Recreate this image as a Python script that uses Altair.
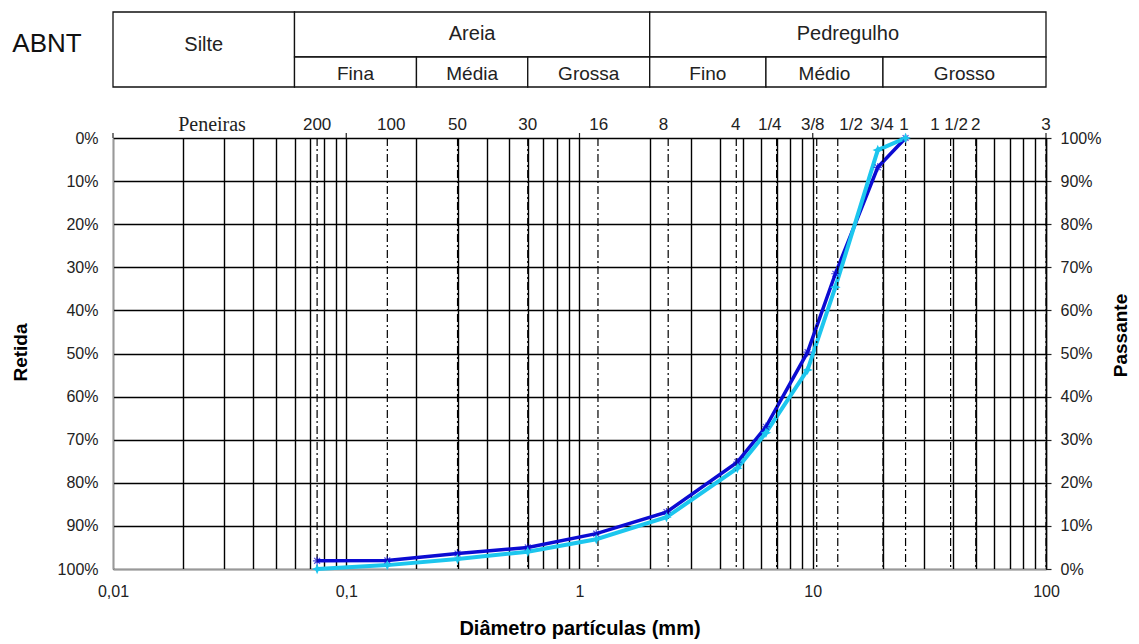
import altair as alt
import pandas as pd
import numpy as np

# ---- data ----
diam_mm = [0.075, 0.15, 0.3, 0.6, 1.18, 2.36, 4.75, 6.3, 9.5, 12.5, 19, 25]
pass_blue = [1.9, 2.0, 3.6, 5.0, 8.2, 13.2, 24.8, 33.0, 50.3, 68.5, 93.2, 100]
pass_cyan = [0.0, 0.9, 2.3, 4.0, 6.9, 12.0, 23.4, 31.6, 46.2, 65.4, 97.2, 100]

sieve_line_mm = [0.075, 0.15, 0.3, 0.6, 1.2, 2.4, 4.7, 7.0, 10.4, 12.8, 20, 25, 39, 50, 100]
sieve_label_mm = [0.075, 0.156, 0.3, 0.6, 1.21, 2.29, 4.67, 6.54, 10.0, 14.6, 19.8, 24.6, 38.4, 50, 100]
sieve_labels = ["200", "100", "50", "30", "16", "8", "4", "1/4", "3/8", "1/2", "3/4", "1", "1 1/2", "2", "3"]

main_names = ["Silte", "Areia", "Pedregulho"]
main_lo = [0.01, 0.06, 2.0]
main_hi = [0.06, 2.0, 100.0]
sub_names = ["Fina", "Média", "Grossa", "Fino", "Médio", "Grosso"]
sub_lo = [0.06, 0.2, 0.6, 2.0, 6.3, 20.0]
sub_hi = [0.2, 0.6, 2.0, 6.3, 20.0, 100.0]

decades = [0.01, 0.1, 1, 10, 100]
grid_x = sorted(set([round(m * d, 6) for d in [0.01, 0.1, 1, 10] for m in range(1, 10)] + [100]))
grid_y = list(range(0, 101, 10))

W, H = 933, 431
SANS = "Liberation Sans"
SERIF = "Liberation Serif"

xscale = alt.Scale(type="log", domain=[0.01, 100], nice=False)
yscale = alt.Scale(domain=[0, 100], nice=False, zero=False)

df_blue = pd.DataFrame({"d": diam_mm, "p": pass_blue})
df_cyan = pd.DataFrame({"d": diam_mm, "p": pass_cyan})

x_axis = alt.Axis(
    values=grid_x, grid=True, gridColor="#000", gridWidth=1.4, gridOpacity=1,
    ticks=False, domainColor="#999", domainWidth=1.2,
    labelExpr="indexof([0.01,0.1,1,10,100], datum.value) >= 0 ? replace(toString(datum.value), '.', ',') : ''",
    labelFont=SANS, labelFontSize=16, labelColor="#222", labelPadding=14, labelFlush=False,
    title="Diâmetro partículas (mm)", titleFont=SANS, titleFontSize=20, titleFontWeight="bold",
    titleColor="#000", titleX=W / 2, titleY=59, titleBaseline="middle", titleAlign="center",
)
left_axis = alt.Axis(
    values=grid_y, grid=True, gridColor="#000", gridWidth=1.4, gridOpacity=1,
    ticks=False, domainColor="#999", domainWidth=1.2,
    labelExpr="(100 - datum.value) + '%'", labelFont=SANS, labelFontSize=16,
    labelColor="#222", labelPadding=15,
    title="Retida", titleFont=SANS, titleFontSize=19, titleFontWeight="bold", titleColor="#000",
    titleAngle=270, titleX=-93, titleY=214, titleAlign="center", titleBaseline="middle",
    orient="left",
)
right_axis = alt.Axis(
    values=grid_y, grid=False, ticks=True, tickSize=5, tickColor="#222", tickWidth=1.2,
    domainColor="#000", domainWidth=1.4,
    labelExpr="datum.value + '%'", labelFont=SANS, labelFontSize=16, labelColor="#222",
    labelPadding=9,
    title="Passante", titleFont=SANS, titleFontSize=19, titleFontWeight="bold", titleColor="#000",
    titleAngle=270, titleX=74, titleY=197, titleAlign="center", titleBaseline="middle",
    orient="right",
)

# sieve dash-dot lines
sieve_df = pd.DataFrame({"mm": sieve_line_mm})
sieve_rules = alt.Chart(sieve_df).mark_rule(
    color="#000", strokeWidth=1.2, strokeDash=[8, 3, 2, 3]
).encode(x=alt.X("mm:Q", scale=xscale, axis=None), y=alt.value(0), y2=alt.value(H))

# decade ticks above the top border
dec_df = pd.DataFrame({"mm": decades})
dec_ticks = alt.Chart(dec_df).mark_rule(color="#222", strokeWidth=1.2).encode(
    x=alt.X("mm:Q", scale=xscale, axis=None), y=alt.value(-5), y2=alt.value(0)
)

# sieve labels
lab_df = pd.DataFrame({"mm": sieve_label_mm, "t": sieve_labels})
sieve_text = alt.Chart(lab_df).mark_text(
    font=SANS, fontSize=17, color="#222", baseline="middle", align="center"
).encode(x=alt.X("mm:Q", scale=xscale, axis=None), y=alt.value(-13), text="t:N")

peneiras = alt.Chart(pd.DataFrame({"t": ["Peneiras"]})).mark_text(
    font=SERIF, fontSize=20, color="#222", baseline="middle", align="center"
).encode(x=alt.value(99), y=alt.value(-13), text="t:N")

# classification table
main_df = pd.DataFrame({"n": main_names, "lo": main_lo, "hi": main_hi})
main_df["c"] = np.sqrt(main_df["lo"] * main_df["hi"])
sub_df = pd.DataFrame({"n": sub_names, "lo": sub_lo, "hi": sub_hi})
sub_df["c"] = np.sqrt(sub_df["lo"] * sub_df["hi"])

silte_df = main_df[main_df["n"] == "Silte"]
top_df = main_df[main_df["n"] != "Silte"]

silte_rect = alt.Chart(silte_df).mark_rect(fill="white", stroke="#111", strokeWidth=1.3).encode(
    x=alt.X("lo:Q", scale=xscale, axis=None), x2="hi:Q", y=alt.value(-126), y2=alt.value(-51)
)
top_rect = alt.Chart(top_df).mark_rect(fill="white", stroke="#111", strokeWidth=1.3).encode(
    x=alt.X("lo:Q", scale=xscale, axis=None), x2="hi:Q", y=alt.value(-126), y2=alt.value(-81)
)
sub_rect = alt.Chart(sub_df).mark_rect(fill="white", stroke="#111", strokeWidth=1.3).encode(
    x=alt.X("lo:Q", scale=xscale, axis=None), x2="hi:Q", y=alt.value(-81), y2=alt.value(-51)
)
silte_text = alt.Chart(silte_df).mark_text(font=SANS, fontSize=20, color="#222", baseline="middle").encode(
    x=alt.X("c:Q", scale=xscale, axis=None), y=alt.value(-93), text="n:N"
)
top_text = alt.Chart(top_df).mark_text(font=SANS, fontSize=20, color="#222", baseline="middle").encode(
    x=alt.X("c:Q", scale=xscale, axis=None), y=alt.value(-104), text="n:N"
)
sub_text = alt.Chart(sub_df).mark_text(font=SANS, fontSize=19, color="#222", baseline="middle").encode(
    x=alt.X("c:Q", scale=xscale, axis=None), y=alt.value(-64), text="n:N"
)
abnt = alt.Chart(pd.DataFrame({"t": ["ABNT"]})).mark_text(
    font=SANS, fontSize=26, color="#111", baseline="middle", align="center"
).encode(x=alt.value(-66), y=alt.value(-94), text="t:N")

# curves
BLUE = "#0b0bd2"
CYAN = "#1cc6ee"
star4 = "M0,-1L0.3,-0.3L1,0L0.3,0.3L0,1L-0.3,0.3L-1,0L-0.3,-0.3Z"
aster = "M-1,0L1,0M0,-1L0,1M-0.7,-0.7L0.7,0.7M-0.7,0.7L0.7,-0.7"

blue_line = alt.Chart(df_blue).mark_line(color=BLUE, strokeWidth=3.5).encode(
    x=alt.X("d:Q", scale=xscale, axis=x_axis),
    y=alt.Y("p:Q", scale=yscale, axis=left_axis),
)
blue_pts = alt.Chart(df_blue).mark_point(shape=aster, color=BLUE, size=70, strokeWidth=1.2, filled=False).encode(
    x=alt.X("d:Q", scale=xscale, axis=None), y=alt.Y("p:Q", scale=yscale, axis=None)
)
cyan_line = alt.Chart(df_cyan).mark_line(color=CYAN, strokeWidth=4).encode(
    x=alt.X("d:Q", scale=xscale, axis=None),
    y=alt.Y("p:Q", scale=yscale, axis=right_axis),
)
cyan_pts = alt.Chart(df_cyan).mark_point(shape=star4, color=CYAN, size=110, filled=True, opacity=1).encode(
    x=alt.X("d:Q", scale=xscale, axis=None), y=alt.Y("p:Q", scale=yscale, axis=None)
)

chart = alt.layer(
    blue_line, cyan_line, sieve_rules, dec_ticks, sieve_text, peneiras,
    silte_rect, top_rect, sub_rect, silte_text, top_text, sub_text, abnt,
    blue_pts, cyan_pts,
).resolve_axis(y="independent", x="independent").properties(
    width=W, height=H,
    autosize=alt.AutoSizeParams(type="none"),
    padding={"left": 105, "top": 130, "right": 85, "bottom": 74},
    background="white",
).configure_view(stroke=None)

chart.save("out.html", embed_options={"renderer": "svg", "actions": False})
